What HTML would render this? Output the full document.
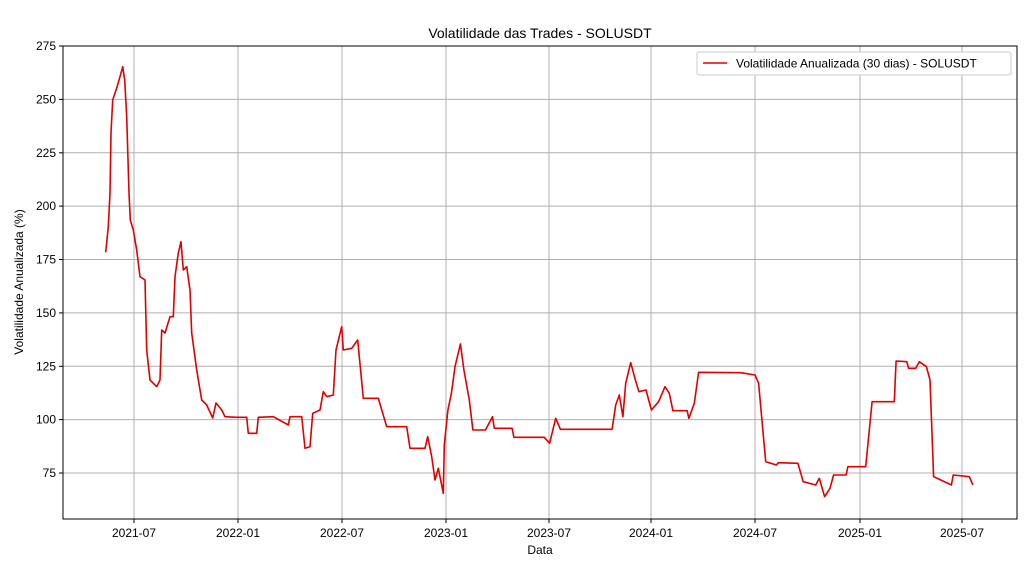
<!DOCTYPE html>
<html><head><style>body{margin:0;background:#fff}svg{display:block;font-family:"Liberation Sans","DejaVu Sans",sans-serif}</style></head>
<body>
<svg width="1036" height="570" viewBox="0 0 1036 570">
<rect width="1036" height="570" fill="#fff"/>
<g stroke="#b0b0b0" stroke-width="1">
<line x1="134" y1="46" x2="134" y2="519"/><line x1="238" y1="46" x2="238" y2="519"/><line x1="342" y1="46" x2="342" y2="519"/><line x1="446" y1="46" x2="446" y2="519"/><line x1="549" y1="46" x2="549" y2="519"/><line x1="651" y1="46" x2="651" y2="519"/><line x1="755" y1="46" x2="755" y2="519"/><line x1="860" y1="46" x2="860" y2="519"/><line x1="962" y1="46" x2="962" y2="519"/>
<line x1="63" y1="99.4" x2="1017" y2="99.4"/><line x1="63" y1="152.8" x2="1017" y2="152.8"/><line x1="63" y1="206.1" x2="1017" y2="206.1"/><line x1="63" y1="259.5" x2="1017" y2="259.5"/><line x1="63" y1="312.9" x2="1017" y2="312.9"/><line x1="63" y1="366.3" x2="1017" y2="366.3"/><line x1="63" y1="419.6" x2="1017" y2="419.6"/><line x1="63" y1="473" x2="1017" y2="473"/>
</g>
<polyline fill="none" stroke="#e00000" stroke-width="1.6" stroke-linejoin="round" points="105.7,252.3 108.3,226.7 110,193 111,133 112.7,100 116.7,88 120,76.7 122.7,66.7 124.7,80 126.7,116.7 129,193 130.3,220 133.3,230 136.7,250 140,276.7 145,280 146.7,350 150,380 156.7,386.7 160,380 161.7,330 165,333 170,316.7 173.3,316.7 175,276.7 178.3,253 181,241.7 183.3,270 186.7,266.7 190,290 191.7,333 196.7,370 201.7,400 206.7,405 212.7,418 216,403 221.7,410 225,416.7 236.7,417.3 246.7,417.3 248.3,433.3 256.7,433.3 258.3,417.3 273.3,416.7 288.3,425 290,416.7 301.7,416.7 305,448.3 310,446.7 312.7,413.3 320,410 323.3,391.7 326.7,396.7 333.3,395 336,350 341.7,326.7 343.3,350 351.7,348.3 357.7,340 363.3,398.3 378.3,398.3 386.7,426.7 406.7,426.7 410,448.3 425,448.3 427.7,436.7 431.7,456.7 435,480 438.3,468.3 443.3,493.3 444.3,445 447.9,410 451.4,393.3 455,366.7 460.4,344 463.9,370 469.3,400 472.9,430 485.4,430 492.5,416.7 494.3,428.3 512.1,428.3 513.9,437.3 544.3,437.3 549.6,443.3 555.7,418.3 560.4,429.3 612.1,429.3 615.7,405 619.3,395 622.9,416.7 625.7,383.3 630.7,362.7 635.4,380 638.9,391.7 646,390 651.4,410 658.6,401.7 665,386.7 669.3,393.3 672.9,410.7 687.1,410.7 688.9,418.3 694.3,403.3 698.6,372.3 740.7,372.7 755,375 758.6,383.3 765.7,461.7 776.4,465 778.2,462.7 797.9,463.3 803.2,481.7 815.7,485 819.3,478.3 824.6,496.7 830,488.3 833.6,475 846.1,475 847.9,466.7 865.7,466.7 872.1,401.7 894.3,401.7 896.1,361 906.8,361.7 908.6,368.3 915.7,368.3 919.3,361.7 926.4,366.7 930,380 933.6,476.7 940.7,480 951.4,485 953.2,475 969.3,476.7 972.9,485"/>
<rect x="63" y="46" width="954" height="473" fill="none" stroke="#000" stroke-width="1"/>
<g stroke="#000"><line x1="59" y1="46" x2="63" y2="46"/><line x1="59" y1="99.4" x2="63" y2="99.4"/><line x1="59" y1="152.8" x2="63" y2="152.8"/><line x1="59" y1="206.1" x2="63" y2="206.1"/><line x1="59" y1="259.5" x2="63" y2="259.5"/><line x1="59" y1="312.9" x2="63" y2="312.9"/><line x1="59" y1="366.3" x2="63" y2="366.3"/><line x1="59" y1="419.6" x2="63" y2="419.6"/><line x1="59" y1="473" x2="63" y2="473"/>
<line x1="134" y1="519" x2="134" y2="523"/><line x1="238" y1="519" x2="238" y2="523"/><line x1="342" y1="519" x2="342" y2="523"/><line x1="446" y1="519" x2="446" y2="523"/><line x1="549" y1="519" x2="549" y2="523"/><line x1="651" y1="519" x2="651" y2="523"/><line x1="755" y1="519" x2="755" y2="523"/><line x1="860" y1="519" x2="860" y2="523"/><line x1="962" y1="519" x2="962" y2="523"/></g>
<g font-size="12" fill="#000" text-anchor="end"><text x="56" y="50">275</text><text x="56" y="103.4">250</text><text x="56" y="156.8">225</text><text x="56" y="210.1">200</text><text x="56" y="263.5">175</text><text x="56" y="316.9">150</text><text x="56" y="370.3">125</text><text x="56" y="423.6">100</text><text x="56" y="477">75</text></g>
<g font-size="12" fill="#000" text-anchor="middle"><text x="134" y="537">2021-07</text><text x="238" y="537">2022-01</text><text x="342" y="537">2022-07</text><text x="446" y="537">2023-01</text><text x="549" y="537">2023-07</text><text x="651" y="537">2024-01</text><text x="755" y="537">2024-07</text><text x="860" y="537">2025-01</text><text x="962" y="537">2025-07</text>
<text x="540" y="554">Data</text>
<text x="540" y="38" font-size="14">Volatilidade das Trades - SOLUSDT</text>
<text transform="translate(23,282) rotate(-90)">Volatilidade Anualizada (%)</text></g>
<rect x="697" y="52" width="314" height="23" rx="2" fill="#fff" stroke="#ccc"/>
<line x1="703" y1="63" x2="727" y2="63" stroke="#e00000" stroke-width="1.6"/>
<text x="736" y="67.5" font-size="12">Volatilidade Anualizada (30 dias) - SOLUSDT</text>
</svg>
</body></html>
